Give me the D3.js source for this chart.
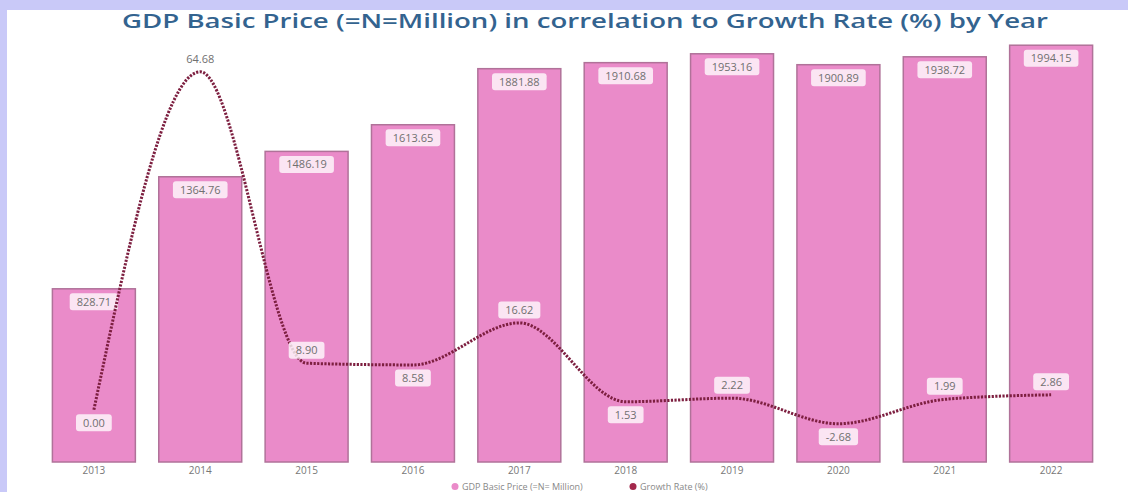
<!DOCTYPE html>
<html>
<head>
<meta charset="utf-8">
<script src="https://cdn.jsdelivr.net/npm/d3@7/dist/d3.min.js"></script>
<style>
  html, body { margin: 0; padding: 0; background: #c9c9f8; }
  svg { display: block; }
</style>
</head>
<body>
<svg id="chart" width="1128" height="492"></svg>
<script>
// Yearly figures
const years = ["2013", "2014", "2015", "2016", "2017", "2018", "2019", "2020", "2021", "2022"];
const gdpBasicPrice = [828.71, 1364.76, 1486.19, 1613.65, 1881.88, 1910.68, 1953.16, 1900.89, 1938.72, 1994.15];
const growthRate = [0.00, 64.68, 8.90, 8.58, 16.62, 1.53, 2.22, -2.68, 1.99, 2.86];
const seriesNames = ["GDP Basic Price (=N= Million)", "Growth Rate (%)"];

const W = 1128, H = 492;
const svg = d3.select("#chart");

// White card over the lavender page
svg.append("rect")
  .attr("x", 7).attr("y", 10)
  .attr("width", W - 7).attr("height", H - 10)
  .attr("fill", "#ffffff");

const x = d3.scaleBand().domain(years).range([29, 1116]).padding(0.22);
const yBar = d3.scaleLinear().domain([0, 2000]).range([462, 44]);
const yLine = d3.scaleLinear().domain([-10, 70]).range([462, 44]);

const labelFont = "'Open Sans', 'DejaVu Sans', sans-serif";

// Title
svg.append("text")
  .attr("x", 585).attr("y", 28)
  .attr("text-anchor", "middle")
  .attr("font-family", labelFont)
  .attr("font-weight", 600)
  .attr("font-size", 20)
  .attr("fill", "#33638f")
  .attr("textLength", 926)
  .attr("lengthAdjust", "spacingAndGlyphs")
  .text("GDP Basic Price (=N=Million) in correlation to Growth Rate (%) by Year");

// Bars
svg.append("g").selectAll("rect")
  .data(years)
  .join("rect")
  .attr("x", d => x(d))
  .attr("y", (d, i) => yBar(gdpBasicPrice[i]))
  .attr("width", x.bandwidth())
  .attr("height", (d, i) => yBar(0) - yBar(gdpBasicPrice[i]))
  .attr("fill", "#ea8bc9")
  .attr("stroke", "#b07299")
  .attr("stroke-width", 1.5);

// X axis (labels only)
const xAxis = svg.append("g")
  .attr("transform", `translate(0,${yBar(0)})`)
  .call(d3.axisBottom(x).tickSize(0).tickPadding(5));
xAxis.select(".domain").remove();
xAxis.selectAll("text")
  .attr("font-family", labelFont)
  .attr("font-size", 10)
  .attr("fill", "#777");

// Boxed value label helper
function boxedLabel(g, cx, cy, txt) {
  const lg = g.append("g").attr("transform", `translate(${cx},${cy})`);
  const t = lg.append("text")
    .attr("text-anchor", "middle")
    .attr("dy", "0.35em")
    .attr("font-family", labelFont)
    .attr("font-size", 11)
    .attr("fill", "#707070")
    .text(txt);
  const w = t.node().getComputedTextLength();
  lg.insert("rect", "text")
    .attr("x", -w / 2 - 7).attr("y", -8.5)
    .attr("width", w + 14).attr("height", 17)
    .attr("rx", 3)
    .attr("fill", "rgba(255,255,255,0.78)");
}

// Bar value labels
const barLabels = svg.append("g");
years.forEach((yr, i) => {
  boxedLabel(barLabels, x(yr) + x.bandwidth() / 2, yBar(gdpBasicPrice[i]) + 13,
    gdpBasicPrice[i].toFixed(2));
});

// Growth rate line
const cx = d => x(d) + x.bandwidth() / 2;
const line = d3.line()
  .x((d, i) => cx(years[i]))
  .y(d => yLine(d))
  .curve(d3.curveMonotoneX);

svg.append("path")
  .datum(growthRate)
  .attr("d", line)
  .attr("fill", "none")
  .attr("stroke", "#7d1f40")
  .attr("stroke-width", 3)
  .attr("stroke-dasharray", "2.2 1.4");

// Growth rate labels: below local minima, above otherwise
const lineLabels = svg.append("g");
growthRate.forEach((v, i) => {
  const prev = i > 0 ? growthRate[i - 1] : Infinity;
  const next = i < growthRate.length - 1 ? growthRate[i + 1] : Infinity;
  const below = v <= prev && v <= next;
  boxedLabel(lineLabels, cx(years[i]), yLine(v) + (below ? 13 : -13), v.toFixed(2));
});

// Legend along the bottom edge
const legend = svg.append("g").attr("transform", "translate(0,486.5)");
const legendItems = [
  { x: 455, color: "#ea8bc9", name: seriesNames[0] },
  { x: 633, color: "#a3284c", name: seriesNames[1] }
];
legendItems.forEach(it => {
  legend.append("circle").attr("cx", it.x).attr("cy", 0).attr("r", 3.5).attr("fill", it.color);
  legend.append("text")
    .attr("x", it.x + 7).attr("y", 0).attr("dy", "0.35em")
    .attr("font-family", labelFont)
    .attr("font-size", 9)
    .attr("fill", "#888")
    .text(it.name);
});
</script>
</body>
</html>
